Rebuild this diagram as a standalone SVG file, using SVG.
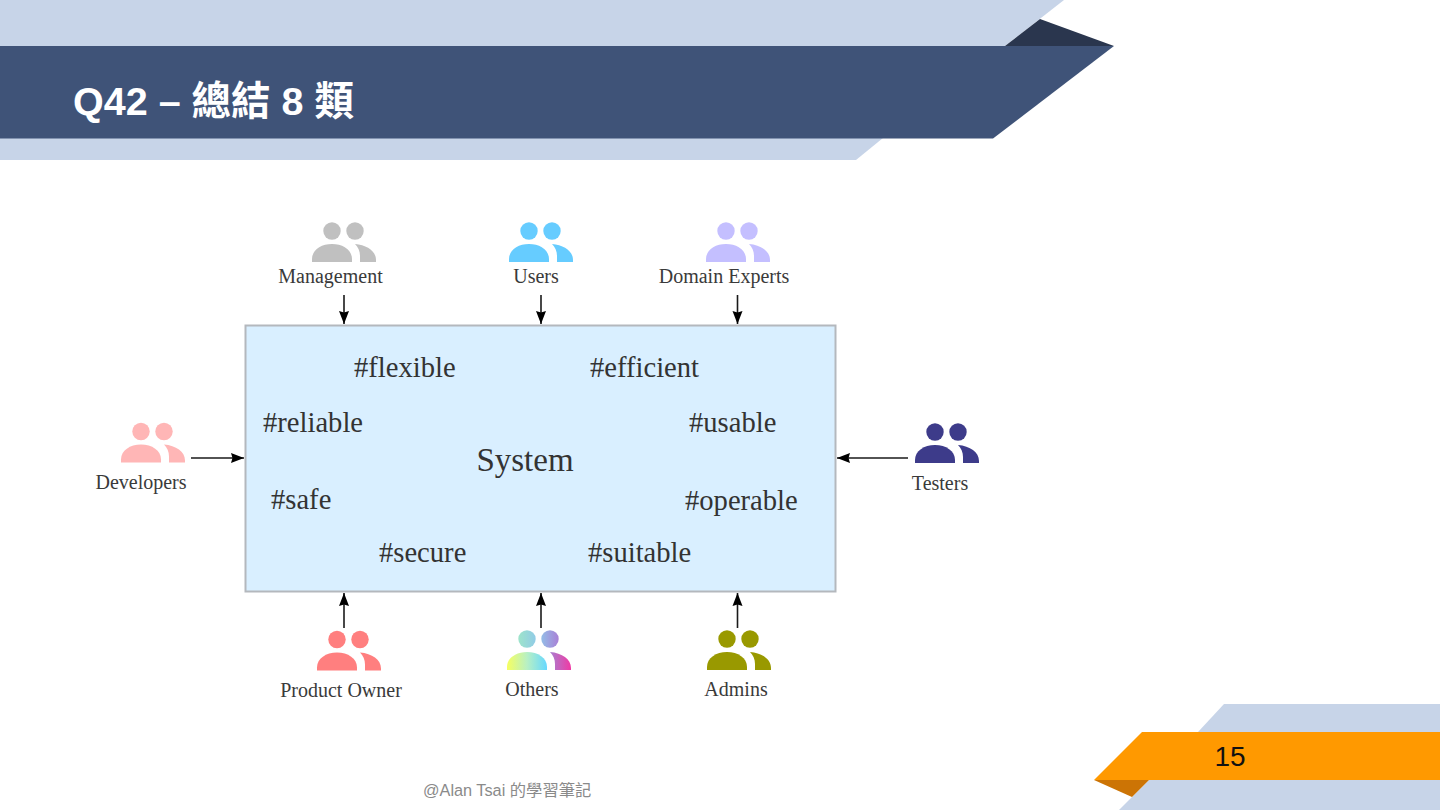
<svg xmlns="http://www.w3.org/2000/svg" width="1440" height="810" viewBox="0 0 1440 810">
<style>
.lbl{font-family:"Liberation Serif","Times New Roman",serif;font-size:20px;fill:#3a3a3a;}
.tag{font-family:"Liberation Serif","Times New Roman",serif;font-size:28.600px;fill:#333;}
.cn{stroke:#1a1a1a;stroke-width:1.600;fill:none;marker-end:url(#arr);}
</style>
<defs>
<marker id="arr" markerUnits="userSpaceOnUse" markerWidth="16" markerHeight="12" refX="13" refY="5.500" orient="auto"><path d="M0 0.500L13 5.500L0 10.500L1.500 5.500Z" fill="#000"/></marker>
<g id="people">
<circle cx="20" cy="-31" r="8.700"/><circle cx="43" cy="-31" r="8.700"/>
<path d="M0 0V-3C0-12 9-18 20-18C31-18 40-12 40-3V0Z"/>
<path d="M43-18C55-17 64-11 64-2V0H48V-6C48-11 46-15 43-18Z"/>
</g>
<linearGradient id="gCirc" gradientUnits="userSpaceOnUse" x1="10" y1="0" x2="52" y2="0"><stop offset="0" stop-color="#9fe6c8"/><stop offset="0.5" stop-color="#8fc8ea"/><stop offset="1" stop-color="#a97fd6"/></linearGradient>
<linearGradient id="gBody" gradientUnits="userSpaceOnUse" x1="0" y1="0" x2="40" y2="0"><stop offset="0" stop-color="#f6ff60"/><stop offset="0.5" stop-color="#b8f0c4"/><stop offset="1" stop-color="#66d8ff"/></linearGradient>
<linearGradient id="gRight" gradientUnits="userSpaceOnUse" x1="43" y1="0" x2="64" y2="0"><stop offset="0" stop-color="#a87fd0"/><stop offset="1" stop-color="#f03aa4"/></linearGradient>
</defs>

<g id="slide-frame">
<polygon points="0,0 1064,0 1005,46 0,46" fill="#c7d4e8"/>
<polygon points="0,138 883,138 856,160 0,160" fill="#c7d4e8"/>
<polygon points="1005,46 1040,19 1114,46" fill="#2a364e"/>
<polygon points="0,46 1114,46 993,138.500 0,138.500" fill="#3f5378"/>
<polygon points="1224,704 1440,704 1440,732 1198,732" fill="#c7d4e8"/>
<polygon points="1119,810 1149,780 1440,780 1440,810" fill="#c7d4e8"/>
<polygon points="1094,780 1132,797 1149,780" fill="#cc7405"/>
<polygon points="1142,732 1440,732 1440,780 1094,780" fill="#ff9900"/>
<text x="73" y="115" font-family="'Liberation Sans','Noto Sans CJK TC',sans-serif" font-size="39.500" font-weight="700" fill="#fff">Q42 – 總結 8 類</text>
<text x="1230" y="766" text-anchor="middle" font-family="'Liberation Sans',Arial,sans-serif" font-size="28" fill="#111">15</text>
<text x="423" y="796" font-family="'Liberation Sans','Noto Sans CJK TC',sans-serif" font-size="16.300" fill="#8a8a8a">@Alan Tsai 的學習筆記</text>
</g>

<g id="connectors">
<line class="cn" x1="344" y1="295" x2="344" y2="324"/>
<line class="cn" x1="541" y1="295" x2="541" y2="324"/>
<line class="cn" x1="737.500" y1="295" x2="737.500" y2="324"/>
<line class="cn" x1="191" y1="458" x2="244" y2="458"/>
<line class="cn" x1="908" y1="458" x2="837" y2="458"/>
<line class="cn" x1="344" y1="628" x2="344" y2="593"/>
<line class="cn" x1="541" y1="628" x2="541" y2="593"/>
<line class="cn" x1="737.500" y1="628" x2="737.500" y2="593"/>
</g>

<g id="system">
<rect x="245.500" y="325.500" width="590" height="266" fill="#d9efff" stroke="#b4b8bd" stroke-width="2"/>
<text x="525" y="471" text-anchor="middle" font-family="'Liberation Serif','Times New Roman',serif" font-size="33" fill="#333">System</text>
<text class="tag" x="354" y="377">#flexible</text>
<text class="tag" x="590" y="377">#efficient</text>
<text class="tag" x="263" y="432">#reliable</text>
<text class="tag" x="689" y="432">#usable</text>
<text class="tag" x="271" y="509">#safe</text>
<text class="tag" x="685" y="510">#operable</text>
<text class="tag" x="379" y="562">#secure</text>
<text class="tag" x="588" y="562">#suitable</text>
</g>

<g id="management"><use href="#people" x="312" y="262" fill="#c0c0c0"/><text class="lbl" x="330.500" y="283" text-anchor="middle">Management</text></g>
<g id="users"><use href="#people" x="509" y="262" fill="#66ccff"/><text class="lbl" x="536" y="283" text-anchor="middle">Users</text></g>
<g id="domain-experts"><use href="#people" x="706" y="262" fill="#c4bfff"/><text class="lbl" x="724" y="283" text-anchor="middle">Domain Experts</text></g>
<g id="developers"><use href="#people" x="121" y="462.500" fill="#ffb6b6"/><text class="lbl" x="141" y="489" text-anchor="middle">Developers</text></g>
<g id="testers"><use href="#people" x="915" y="463" fill="#3d3b8a"/><text class="lbl" x="940" y="490" text-anchor="middle">Testers</text></g>
<g id="product-owner"><use href="#people" x="317" y="670.500" fill="#ff7f7f"/><text class="lbl" x="341" y="697" text-anchor="middle">Product Owner</text></g>
<g id="others"><g transform="translate(507 670)">
<circle cx="20" cy="-31" r="8.700" fill="url(#gCirc)"/><circle cx="43" cy="-31" r="8.700" fill="url(#gCirc)"/>
<path d="M0 0V-3C0-12 9-18 20-18C31-18 40-12 40-3V0Z" fill="url(#gBody)"/>
<path d="M43-18C55-17 64-11 64-2V0H48V-6C48-11 46-15 43-18Z" fill="url(#gRight)"/>
</g><text class="lbl" x="532" y="696" text-anchor="middle">Others</text></g>
<g id="admins"><use href="#people" x="707" y="670" fill="#999900"/><text class="lbl" x="736" y="696" text-anchor="middle">Admins</text></g>
</svg>
